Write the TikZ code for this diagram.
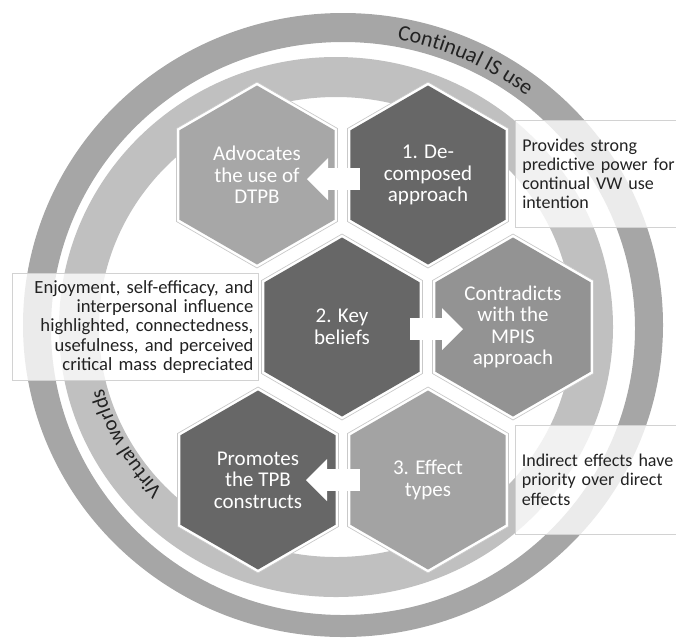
\documentclass[tikz,border=0pt]{standalone}
\usepackage{fontspec}
\setmainfont{Carlito}
\usetikzlibrary{shapes.geometric,arrows.meta,decorations.text}
\definecolor{ringout}{HTML}{A6A6A6}
\definecolor{ringin}{HTML}{C0C0C0}
\definecolor{hexdark}{HTML}{676767}
\definecolor{hexlight}{HTML}{A7A7A7}
\definecolor{hexmid}{HTML}{939393}
\definecolor{hexeff}{HTML}{A3A3A3}
\definecolor{txtdark}{HTML}{222222}
\definecolor{edgegray}{HTML}{C9C9C9}
\definecolor{boxedge}{HTML}{D2D2D2}
\newcommand\hextxt{\fontsize{21}{21.5}\selectfont}
\newcommand\boxtxt{\fontsize{18.6}{19.3}\selectfont}
\newcommand\boxtxtr{\fontsize{18}{19.3}\selectfont}
\newcommand\curvtxt{\fontsize{22}{22}\selectfont\color{txtdark}}
\newcommand\curvtxtb{\fontsize{21}{21}\selectfont\color{txtdark}}
\begin{document}
\begin{tikzpicture}[x=1pt,y=1pt,
  hexshape/.style={regular polygon, regular polygon sides=6, shape border rotate=30, inner sep=0pt},
  hexout/.style={hexshape, minimum size=186pt, fill=white, draw=edgegray, line width=0.7pt},
  hexin/.style={hexshape, minimum size=179pt, fill=#1, text=white, font=\hextxt, align=center},
  blockarrow/.style={draw=white, line width=22pt, -{Triangle[width=42pt,length=21pt,line width=0pt]}},
  notebox/.style={rectangle, fill=white, fill opacity=0.78, text opacity=1, draw=boxedge, line width=0.6pt, text=txtdark, font=\boxtxt, minimum height=107pt, inner ysep=0pt}
]
\useasboundingbox (0,0) rectangle (676,-641);
\clip (0,0) rectangle (676,-641);
% rings
\fill[ringout, even odd rule] (343,-325) ellipse [x radius=320, y radius=312] (343,-328.5) ellipse [x radius=292, y radius=286.5];
\fill[ringin, even odd rule] (336,-327) ellipse [x radius=277, y radius=270] (336,-327) ellipse [x radius=237, y radius=230];
% hexagon outlines
\node[hexout] (h1o) at (257,-175) {};
\node[hexout] (h2o) at (428,-175) {};
\node[hexout] (h3o) at (342,-327) {};
\node[hexout] (h4o) at (513,-327) {};
\node[hexout] (h5o) at (258,-480) {};
\node[hexout] (h6o) at (428,-480) {};
% hexagon fills
\node[hexin=hexlight] (h1) at (257,-175) {Advocates\\the use of\\DTPB};
\node[hexin=hexdark] (h2) at (428,-175) {1. De-\\composed\\approach};
\node[hexin=hexdark] (h3) at (342,-327) {2. Key\\beliefs};
\node[hexin=hexmid] (h4) at (513,-327) {Contradicts\\with the\\MPIS\\approach};
\node[hexin=hexdark] (h5) at (258,-480) {Promotes\\the TPB\\constructs};
\node[hexin=hexeff] (h6) at (428,-480) {3. Effect\\types};
% block arrows
\coordinate (a1s) at (360,-179);
\coordinate (a1e) at (307,-179);
\coordinate (a2s) at (410,-329);
\coordinate (a2e) at (463,-329);
\coordinate (a3s) at (360,-480);
\coordinate (a3e) at (306,-480);
\draw[blockarrow] (a1s) -- (a1e);
\draw[blockarrow] (a2s) -- (a2e);
\draw[blockarrow] (a3s) -- (a3e);
% note boxes
\node[notebox, font=\boxtxtr, anchor=north west, minimum width=175pt, text width=162pt, inner xsep=7pt, align=left] (n1) at (515,-120)
  {Provides strong\\predictive power for\\continual VW use\\intention};
\node[notebox, anchor=north west, minimum width=246pt, text width=236pt, inner xsep=5pt, align=right] (n2) at (12,-273)
  {Enjoyment, self-efficacy, and\\interpersonal influence\\highlighted, connectedness,\\usefulness, and perceived\\critical mass depreciated};
\node[notebox, font=\boxtxtr, anchor=north west, minimum width=175pt, minimum height=109pt, text width=162pt, inner xsep=6pt, align=left] (n3) at (515,-425)
  {Indirect effects have\\priority over direct\\effects};
% curved labels
\path[decorate, decoration={text along path, text align=center, text={|\curvtxt|Continual IS use}}]
  (343,-326.5) ++(85:299 and 292) arc[start angle=85, end angle=46.6, x radius=299, y radius=292];
\path[decorate, decoration={text along path, text align=center, text={|\curvtxtb|Virtual worlds}}]
  (336,-327) ++(236:241 and 235) arc[start angle=236, end angle=183, x radius=241, y radius=235];
\end{tikzpicture}
\end{document}
